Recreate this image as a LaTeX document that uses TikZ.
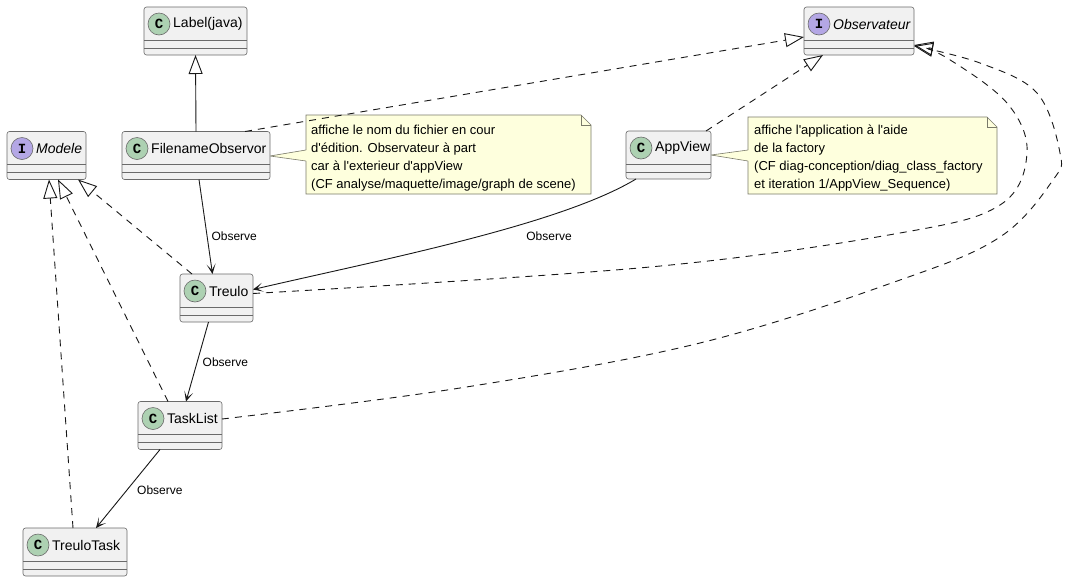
\documentclass[tikz,border=0pt]{standalone}
\usepackage{fontspec}
\setmainfont{Liberation Sans}
\newfontfamily\badgefont{Liberation Mono}
\usetikzlibrary{arrows.meta, backgrounds}

\definecolor{classbg}{HTML}{F1F1F1}
\definecolor{edge}{HTML}{181818}
\definecolor{frame}{HTML}{6A6A6A}
\definecolor{cgreen}{HTML}{ADD1B2}
\definecolor{ipurple}{HTML}{B4A7E5}
\definecolor{notebg}{HTML}{FEFFDD}
\definecolor{noteframe}{HTML}{7A7A6A}

\newcommand\apos{\textquotesingle}

\tikzset{
  classbox/.style={draw=frame, line width=0.6pt, fill=classbg, rounded corners=2.5pt,
    minimum height=48pt, inner sep=0pt, outer sep=0pt},
  sepline/.style={draw=frame, line width=0.6pt},
  badge/.style={circle, draw=frame, line width=0.6pt, minimum size=22pt, inner sep=0pt,
    font=\badgefont\fontsize{14}{14}\selectfont\bfseries},
  cname/.style={anchor=west, inner sep=0pt, font=\fontsize{14}{16}\selectfont},
  link/.style={draw=edge, line width=0.9pt},
  realize/.style={link, dash pattern=on 7pt off 6pt,
    -{Triangle[open, length=19pt, width=14pt]}},
  extends/.style={link, -{Triangle[open, length=19pt, width=14pt]}},
  observe/.style={link, -{Stealth[length=10pt, width=9pt, inset=6pt]}},
  lbl/.style={font=\fontsize{12}{14}\selectfont, inner sep=0pt},
  notebox/.style={inner sep=0pt, outer sep=0pt, anchor=north west},
  notetext/.style={inner sep=0pt, anchor=north west, align=left,
    font=\fontsize{13}{17.8}\selectfont},
  noteshape/.style={draw=noteframe, line width=0.6pt, fill=notebg},
  noteline/.style={draw=noteframe, line width=0.6pt},
}

% class box: name, centre, width, stereotype letter, badge colour, title, title style
\newcommand\umlclass[7]{%
  \node[classbox, minimum width=#3] (#1) at #2 {};
  \draw[sepline] ([yshift=-33pt]#1.north west) -- ([yshift=-33pt]#1.north east);
  \draw[sepline] ([yshift=-41pt]#1.north west) -- ([yshift=-41pt]#1.north east);
  \node[badge, fill=#5] (#1-badge) at ([xshift=15pt,yshift=-17pt]#1.north west) {#4};
  \node[cname] (#1-name) at ([xshift=29pt,yshift=-17pt]#1.north west) {#7#6};
}

% note with a folded corner
\newcommand\folded[1]{%
  \path[noteshape] (#1.north west) -- ([xshift=-10pt]#1.north east)
    -- ([yshift=-10pt]#1.north east) -- (#1.south east) -- (#1.south west) -- cycle;
  \draw[noteline] ([xshift=-10pt]#1.north east) |- ([yshift=-10pt]#1.north east);
}

\begin{document}
\begin{tikzpicture}[x=1pt, y=-1pt]
\useasboundingbox (0,0) rectangle (1081,582);

% classes and interfaces
\umlclass{label}{(195.5,31)}{103pt}{C}{cgreen}{Label(java)}{}
\umlclass{filename}{(196,155.5)}{148pt}{C}{cgreen}{FilenameObservor}{}
\umlclass{modele}{(46.5,155.5)}{79pt}{I}{ipurple}{Modele}{\itshape}
\umlclass{treulo}{(216.5,298)}{73pt}{C}{cgreen}{Treulo}{}
\umlclass{observ}{(859,31)}{110pt}{I}{ipurple}{Observateur}{\itshape}
\umlclass{appview}{(668.5,155)}{85pt}{C}{cgreen}{AppView}{}
\umlclass{tasklist}{(180,425.5)}{84pt}{C}{cgreen}{TaskList}{}
\umlclass{treulotask}{(75,552)}{104pt}{C}{cgreen}{TreuloTask}{}

% notes
\node[notebox, minimum width=285pt, minimum height=79pt] (note1) at (306,115) {};
\node[notebox, minimum width=249pt, minimum height=77pt] (note2) at (748,117) {};
\begin{scope}[on background layer]
  \fill[white] (0,0) rectangle (1081,582);
  \folded{note1}
  \folded{note2}
  \fill[notebg] ([yshift=-0.5pt]filename.east) -- ([yshift=-35pt]note1.north west)
    -- ([xshift=2pt,yshift=-35pt]note1.north west) -- ([xshift=2pt,yshift=-46pt]note1.north west)
    -- ([yshift=-46pt]note1.north west) -- cycle;
  \draw[noteline] ([yshift=-35pt]note1.north west) -- ([yshift=-0.5pt]filename.east)
    -- ([yshift=-46pt]note1.north west);
  \fill[notebg] (appview.east) -- ([yshift=-33pt]note2.north west)
    -- ([xshift=2pt,yshift=-33pt]note2.north west) -- ([xshift=2pt,yshift=-44pt]note2.north west)
    -- ([yshift=-44pt]note2.north west) -- cycle;
  \draw[noteline] ([yshift=-33pt]note2.north west) -- (appview.east)
    -- ([yshift=-44pt]note2.north west);
\end{scope}
\node[notetext] (note1-text) at ([xshift=5pt,yshift=-10pt]note1.north west)
  {affiche le nom du fichier en cour\\
   d\apos{}édition. Observateur à part\\
   car à l\apos{}exterieur d\apos{}appView\\
   (CF analyse/maquette/image/graph de scene)};
\node[notetext] (note2-text) at ([xshift=6pt,yshift=-8pt]note2.north west)
  {affiche l\apos{}application à l\apos{}aide\\
   de la factory\\
   (CF diag-conception/diag\_class\_factory\\
   et iteration 1/AppView\_Sequence)};

% inheritance and realisation
\draw[extends] (filename.north) -- (label.south);
\draw[realize] ([xshift=49pt]filename.north) -- ([yshift=-6pt]observ.west);
\draw[realize] ([xshift=37.5pt]appview.north) -- ([xshift=-36pt]observ.south);
\draw[realize] ([xshift=-24.5pt]treulo.north) -- ([xshift=31.5pt]modele.south);
\draw[realize] ([xshift=-12pt]tasklist.north) -- ([xshift=11.5pt]modele.south);
\draw[realize] ([xshift=-2pt]treulotask.north) -- ([xshift=2.5pt]modele.south);
\draw[realize] plot[smooth, tension=0.6] coordinates {([yshift=4.5pt]treulo.east)
  (650,267) (900,233) (1000,205) (1027,153) (1007,103) (947,58) ([yshift=-14pt]observ.east)};
\draw[realize] plot[smooth, tension=0.6] coordinates {([yshift=6.5pt]tasklist.east)
  (460,388) (700,343) (900,280) (1000,237) (1053,180) (1060,153) (1037,93) (980,63)
  ([yshift=-15pt]observ.east)};

% observation links
\draw[observe] ([xshift=3pt]filename.south) -- ([xshift=-4pt]treulo.north)
  node[lbl, pos=0.6, anchor=west, xshift=4pt] (obs1) {Observe};
\draw[observe] ([xshift=-32.5pt]appview.south) .. controls (560,225) and (380,260)
  .. ([yshift=8.5pt]treulo.east);
\node[lbl] (obs2) at (549,236) {Observe};
\draw[observe] ([xshift=-8pt]treulo.south) -- ([xshift=6pt]tasklist.north)
  node[lbl, pos=0.5, anchor=west, xshift=5pt] (obs3) {Observe};
\draw[observe] ([xshift=-20pt]tasklist.south) -- ([xshift=21pt]treulotask.north)
  node[lbl, pos=0.52, anchor=west, xshift=10pt] (obs4) {Observe};
\end{tikzpicture}
\end{document}
